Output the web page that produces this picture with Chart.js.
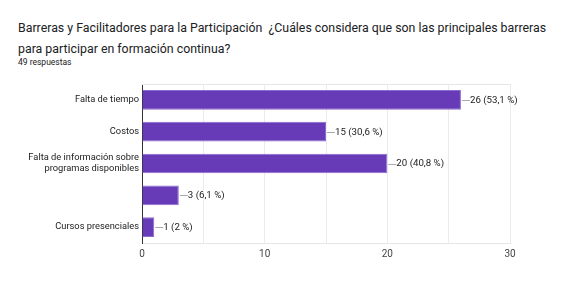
<!DOCTYPE html>
<html>
<head>
<meta charset="utf-8">
<script src="https://cdn.jsdelivr.net/npm/chart.js@4"></script>
<style>
  html, body { margin: 0; padding: 0; background: #fff; }
  body { width: 567px; height: 290px; position: relative; overflow: hidden; font-family: Roboto, sans-serif; }
  #title { position: absolute; left: 18px; top: 18px; width: 560px; font-size: 12.35px; line-height: 21px; color: #202124; white-space: nowrap; }
  #sub { position: absolute; left: 18px; top: 57px; font-size: 8.5px; color: #202124; }
  #wrap { position: absolute; left: 0; top: 70px; width: 567px; height: 220px; }
</style>
</head>
<body>
<div id="title">Barreras y Facilitadores para la Participación&nbsp; ¿Cuáles considera que son las principales barreras<br>para participar en formación continua?</div>
<div id="sub">49 respuestas</div>
<div id="wrap"><canvas id="chart"></canvas></div>
<script>
// categories and answers
const categories = [
    "Falta de tiempo",
    "Costos",
    ["Falta de información sobre", "programas disponibles"],
    "",
    "Cursos presenciales"
];
const counts = [26, 15, 20, 3, 1];
const percents = ["53,1", "30,6", "40,8", "6,1", "2"];
const xTicks = [0, 10, 20, 30];

const ctx = document.getElementById("chart");

// draws the little gray leader line + "n (p %)" after each bar
const barLabels = {
    id: "barLabels",
    afterDatasetsDraw(chart) {
        const c = chart.ctx;
        const meta = chart.getDatasetMeta(0);
        c.save();
        c.font = "9.7px Roboto, sans-serif";
        c.textBaseline = "middle";
        c.textAlign = "left";
        meta.data.forEach(function(bar, i) {
            c.strokeStyle = "#aaaaaa";
            c.lineWidth = 1;
            c.beginPath();
            c.moveTo(bar.x + 1, Math.round(bar.y) + 0.5);
            c.lineTo(bar.x + 9, Math.round(bar.y) + 0.5);
            c.stroke();
            c.fillStyle = "#222222";
            c.fillText(counts[i] + " (" + percents[i] + " %)", bar.x + 9, bar.y + 0.5);
        });
        c.restore();
    }
};

// top border of the plot box
const frame = {
    id: "frame",
    beforeDatasetsDraw(chart) {
        const a = chart.chartArea;
        const c = chart.ctx;
        c.save();
        c.strokeStyle = "#e6e6e6";
        c.lineWidth = 1;
        c.beginPath();
        c.moveTo(a.left, Math.round(a.top) + 0.5);
        c.lineTo(a.right, Math.round(a.top) + 0.5);
        c.stroke();
        c.restore();
    }
};

const chart = new Chart(ctx, {
    type: "bar",
    data: {
        labels: categories,
        datasets: [{
            data: counts,
            backgroundColor: "#673ab7",
            borderColor: "#8c6bd1",
            borderWidth: 1,
            barPercentage: 0.62,
            categoryPercentage: 1
        }]
    },
    options: {
        indexAxis: "y",
        responsive: true,
        maintainAspectRatio: false,
        animation: false,
        layout: { padding: { top: 14, right: 57, bottom: 0, left: 0 } },
        plugins: { legend: { display: false }, tooltip: { enabled: false } },
        scales: {
            x: {
                min: 0,
                max: 30,
                ticks: {
                    stepSize: 5,
                    color: "#444",
                    font: { family: "Roboto", size: 10 },
                    padding: 5,
                    callback: function(v) { return xTicks.includes(v) ? v : ""; }
                },
                grid: {
                    color: function(c) { return c.index === 0 ? "#333333" : "#ebebeb"; },
                    drawTicks: false
                },
                border: { display: true, color: "#e6e6e6" },
                afterFit: function(s) { s.height = 47; }
            },
            y: {
                ticks: {
                    color: "#222",
                    font: { family: "Roboto", size: 9.3 },
                    padding: 3
                },
                grid: { display: false, drawTicks: false },
                border: { display: true, color: "#333333" },
                afterFit: function(s) { s.width = 142; }
            }
        }
    },
    plugins: [frame, barLabels]
});
</script>
</body>
</html>
